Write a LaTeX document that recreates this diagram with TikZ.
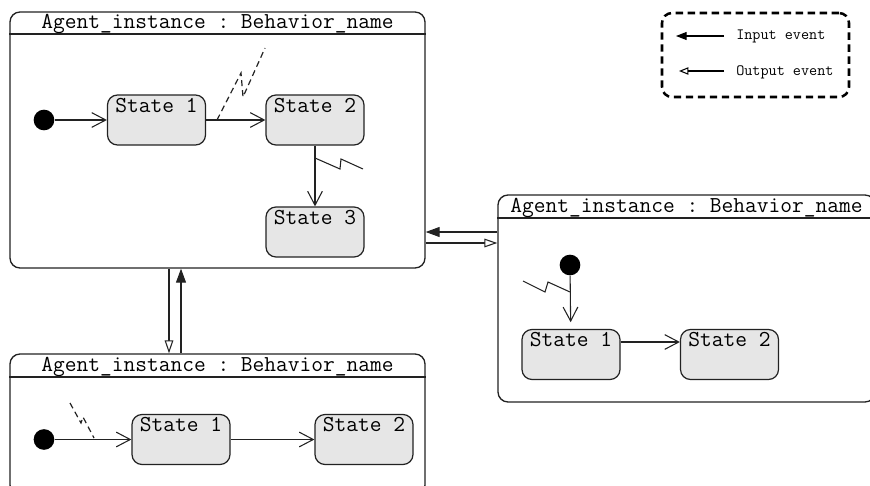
\documentclass[tikz,border=0pt]{standalone}
\usepackage{fontspec}
\usetikzlibrary{arrows.meta}
\definecolor{linec}{HTML}{222222}
\definecolor{statefill}{HTML}{E6E6E6}
\frenchspacing
\begin{document}
\begin{tikzpicture}[x=0.75pt,y=-0.75pt,
  bigfont/.style={font=\fontsize{17.1}{18}\selectfont\ttfamily\frenchspacing},
  agentbox/.style={draw=linec, line width=1pt, rounded corners=7.5pt, inner sep=0pt,
     bigfont, text height=12.75pt},
  statebox/.style={draw=linec, line width=0.9pt, fill=statefill, rounded corners=7.5pt,
     inner sep=0pt, bigfont, minimum width=73.5pt, text height=12.75pt, text depth=24.75pt},
  initdot/.style={circle, fill=black, inner sep=0pt, minimum size=15.5pt},
  trans/.style={draw=linec, line width=0.8pt, -{Straight Barb[length=10.5pt,width=11pt,line width=0.8pt]}},
  inev/.style={draw=linec, line width=0.8pt, -{Triangle[length=10.5pt,width=7.5pt]}},
  outev/.style={draw=linec, line width=0.8pt, -{Triangle[open,length=9.75pt,width=6.5pt,fill=white,line width=0.8pt]}},
  sendsig/.style={draw=linec, line width=0.9pt, dash pattern=on 4.5pt off 3pt},
  recvsig/.style={draw=linec, line width=0.8pt},
  legtxt/.style={font=\fontsize{11.8}{13}\selectfont\ttfamily, inner sep=0pt, anchor=base west},
  legbox/.style={draw=black, line width=1.9pt, dash pattern=on 5.5pt off 3.5pt, rounded corners=7.5pt,
     minimum width=140.25pt, minimum height=63pt, inner sep=0pt}
]
\useasboundingbox (0,0) rectangle (870,485);

% ---------- Agent box 1 ----------
\node[agentbox, minimum width=311.25pt, text depth=179.25pt] (b1) at (217.5,140)
  {Agent\_instance : Behavior\_name};
\draw[draw=linec, line width=1pt] (b1.west |- 0,34) -- (b1.east |- 0,34);

\node[initdot] (d1) at (44,120) {};
\node[statebox] (s1) at (156.5,120) {State 1};
\node[statebox] (s2) at (315,120) {State 2};
\node[statebox] (s3) at (315,232) {State 3};
\draw[trans] (d1) -- (s1);
\draw[trans] (s1) -- (s2);
\draw[trans] (s2) -- (s3);
\draw[sendsig] (217,120) -- (241,73) -- (243,97) -- (265,48);
\draw[recvsig] (315,158) -- (340,169) -- (341,159) -- (363,169);

% ---------- Agent box 2 ----------
\node[agentbox, minimum width=282.75pt, text depth=142.5pt] (b2) at (686.5,298.5)
  {Agent\_instance : Behavior\_name};
\draw[draw=linec, line width=1pt] (b2.west |- 0,218) -- (b2.east |- 0,218);

\node[initdot] (d2) at (570,265) {};
\node[statebox] (s4) at (571,354.5) {State 1};
\node[statebox] (s5) at (729.5,354.5) {State 2};
\draw[trans, shorten >=5pt] (d2) -- (s4);
\draw[trans] (s4.east |- 0,342) -- (s5.west |- 0,342);
\draw[recvsig] (523,281) -- (545,292) -- (548,282) -- (570,292);

% ---------- Agent box 3 ----------
\node[agentbox, minimum width=311.25pt, text depth=93pt] (b3) at (217.5,424.5)
  {Agent\_instance : Behavior\_name};
\draw[draw=linec, line width=1pt] (b3.west |- 0,377) -- (b3.east |- 0,377);

\node[initdot] (d3) at (44,439.5) {};
\node[statebox] (s6) at (181,439.5) {State 1};
\node[statebox] (s7) at (364,439.5) {State 2};
\draw[trans] (d3) -- (s6);
\draw[trans] (s6) -- (s7);
\draw[sendsig] (70,403) -- (81,423) -- (83,417) -- (94,438);

% ---------- events between agents ----------
\draw[inev] (b2.west |- 0,232) -- (b1.east |- 0,232);
\draw[outev] (b1.east |- 0,243) -- (b2.west |- 0,243);
\draw[outev] (b1.south -| 169,0) -- (b3.north -| 169,0);
\draw[inev] (b3.north -| 181,0) -- (b1.south -| 181,0);

% ---------- legend ----------
\node[legbox] (leg) at (755.5,55) {};
\coordinate (lia) at (724,36);
\coordinate (lib) at (676,36);
\coordinate (loa) at (724,71);
\coordinate (lob) at (679,71);
\draw[draw=black, line width=0.8pt, -{Triangle[length=8pt,width=6pt]}] (lia) -- (lib);
\draw[draw=black, line width=0.8pt, -{Triangle[open,length=7pt,width=5.5pt,line width=0.8pt]}] (loa) -- (lob);
\node[legtxt] (lt1) at (736,40) {Input event};
\node[legtxt] (lt2) at (736,75) {Output event};
\end{tikzpicture}
\end{document}
